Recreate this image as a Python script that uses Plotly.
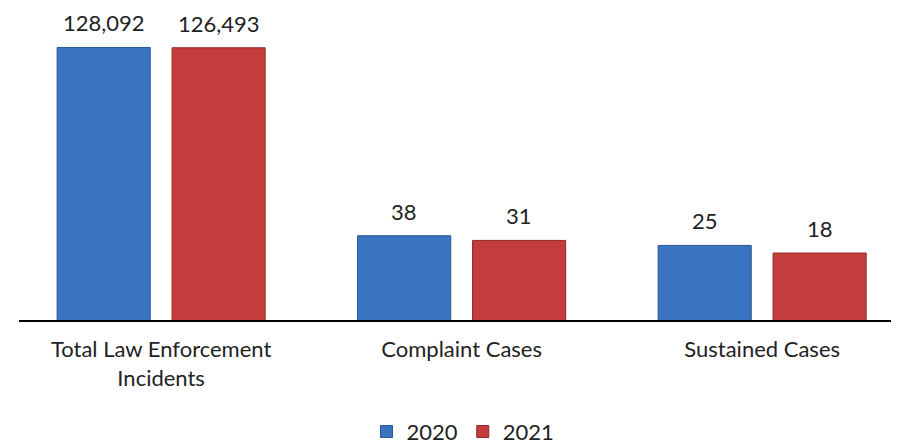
import math
import plotly.graph_objects as go

# --- data -------------------------------------------------------------------
categories = ["Total Law Enforcement<br>Incidents", "Complaint Cases", "Sustained Cases"]
years = ["2020", "2021"]
values_2020 = [128092, 38, 25]
values_2021 = [126493, 31, 18]

COLORS = {"2020": "#3a74c0", "2021": "#c43c3b"}
EDGES = {"2020": "#2a5690", "2021": "#8f2a29"}
FONT = "Lato, 'Open Sans', sans-serif"

fig = go.Figure()
for year, vals in zip(years, [values_2020, values_2021]):
    fig.add_trace(go.Bar(
        x=categories,
        y=vals,
        name=year,
        marker=dict(color=COLORS[year], line=dict(color=EDGES[year], width=1)),
        hoverinfo="x+y+name",
    ))

# value labels sit a bit higher above the bars than plotly's own outside text
for i, (year, vals) in enumerate(zip(years, [values_2020, values_2021])):
    for cat, v in zip(categories, vals):
        fig.add_annotation(
            x=cat, y=math.log10(v), text=f"{v:,}",
            xref="x", yref="y", showarrow=False,
            xshift=(-57.5 if i == 0 else 57.5),
            yanchor="bottom", yshift=10, borderpad=0,
            font=dict(family=FONT, size=22, color="#222"),
        )

fig.update_layout(
    width=899, height=445,
    margin=dict(l=11, r=0, t=10, b=129),
    paper_bgcolor="white", plot_bgcolor="white",
    barmode="group", bargap=0.235, bargroupgap=0.19,
    font=dict(family=FONT, size=22, color="#222"),
    showlegend=True,
    legend=dict(
        orientation="h", x=0.5, xanchor="center",
        y=-0.37, yanchor="middle",
        font=dict(family=FONT, size=22, color="#222"),
        itemwidth=30,
    ),
    xaxis=dict(
        type="category", range=[-0.473, 2.482],
        showline=True, linecolor="black", linewidth=2,
        ticks="outside", ticklen=9, tickcolor="rgba(0,0,0,0)",
        showgrid=False, zeroline=False,
        tickfont=dict(family=FONT, size=22, color="#222"),
    ),
    yaxis=dict(
        type="log", range=[0, 5.66],
        visible=False, showgrid=False, zeroline=False,
    ),
)

fig.write_html("out.html")
